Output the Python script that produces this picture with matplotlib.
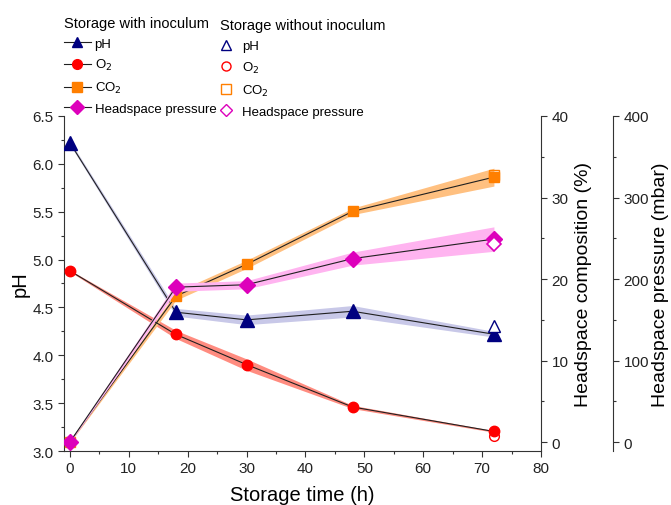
import matplotlib.pyplot as plt
from matplotlib.lines import Line2D
from matplotlib.ticker import MultipleLocator
import numpy as np

plt.rcParams['font.family'] = ['Liberation Sans', 'DejaVu Sans']

# --- données ---
temps = [0, 18, 30, 48, 72]

ph = [6.22, 4.45, 4.37, 4.46, 4.22]
ph_err = [0.02, 0.04, 0.05, 0.06, 0.03]
o2 = [21.0, 13.2, 9.5, 4.3, 1.3]
o2_err = [0.1, 0.5, 0.7, 0.2, 0.1]
co2 = [0.0, 17.9, 21.8, 28.3, 32.5]
co2_err = [0.1, 0.5, 0.5, 0.4, 1.1]
pression = [0, 190, 193, 225, 249]
pression_err = [1, 5, 5, 8, 15]

# sans inoculum (72 h seulement)
t_sans = [72]
ph_sans = [4.31]
o2_sans = [0.7]
co2_sans = [32.8]
pression_sans = [243]

c_ph, c_o2, c_co2, c_p = '#000080', '#ff0000', '#ff7f00', '#dd00bb'
b_ph, b_o2, b_co2, b_p = '#c8c8e8', '#ff8c80', '#ffc080', '#ffb4f0'

fig = plt.figure(figsize=(6.71, 5.06), dpi=100)
ax = fig.add_axes([0.0954, 0.1067, 0.7109, 0.6621])
ax2 = ax.twinx()
ax3 = ax.twinx()
ax3.spines['right'].set_position(('axes', 1.151))

def courbe(axe, y, err, col, band, mk, ms):
    y = np.array(y, float)
    e = np.array(err, float)
    axe.fill_between(temps, y - e, y + e, color=band, lw=0, zorder=1)
    axe.plot(temps, y, color='#202020', lw=0.8, zorder=2)
    axe.plot(temps, y, ls='none', marker=mk, ms=ms, color=col, mec=col, zorder=3)

courbe(ax, ph, ph_err, c_ph, b_ph, '^', 10)
courbe(ax2, o2, o2_err, c_o2, b_o2, 'o', 7.5)
courbe(ax2, co2, co2_err, c_co2, b_co2, 's', 7.5)
courbe(ax3, pression, pression_err, c_p, b_p, 'D', 8.5)

ax.plot(t_sans, ph_sans, ls='none', marker='^', ms=9, mfc='white', mec=c_ph, mew=1, zorder=4)
ax2.plot(t_sans, o2_sans, ls='none', marker='o', ms=7, mfc='white', mec=c_o2, mew=1, zorder=2.5)
ax2.plot(t_sans, co2_sans, ls='none', marker='s', ms=7, mfc='none', mec=c_co2, mew=1, zorder=4)
ax3.plot(t_sans, pression_sans, ls='none', marker='D', ms=7.5, mfc='white', mec=c_p, mew=1.2, zorder=4)

# axes
ax.set_xlim(-1, 80)
ax.set_ylim(3.0, 6.5)
ax2.set_ylim(-1.1, 40)
ax3.set_ylim(-11, 400)

ax.xaxis.set_major_locator(MultipleLocator(10))
ax.xaxis.set_minor_locator(MultipleLocator(5))
ax.yaxis.set_major_locator(MultipleLocator(0.5))
ax.yaxis.set_minor_locator(MultipleLocator(0.25))
ax2.yaxis.set_major_locator(MultipleLocator(10))
ax2.yaxis.set_minor_locator(MultipleLocator(5))
ax3.yaxis.set_major_locator(MultipleLocator(100))
ax3.yaxis.set_minor_locator(MultipleLocator(50))
ax.yaxis.set_major_formatter(plt.FormatStrFormatter('%.1f'))

for a in (ax, ax2, ax3):
    a.spines['top'].set_visible(False)
    a.tick_params(which='major', length=4, width=0.8, labelsize=11, colors='#333333', labelcolor='#222222')
    a.tick_params(which='minor', length=2.5, width=0.8, colors='#333333')
    for s in a.spines.values():
        s.set_color('#333333')
ax2.spines['left'].set_visible(False)
ax3.spines['left'].set_visible(False)
ax.spines['right'].set_visible(False)
ax2.spines['bottom'].set_visible(False)
ax3.spines['bottom'].set_visible(False)

ax.set_xlabel('Storage time (h)', fontsize=14.5, labelpad=7)
ax.set_ylabel('pH', fontsize=14.5, labelpad=2)
ax2.set_ylabel('Headspace composition (%)', fontsize=14, labelpad=5)
ax3.set_ylabel('Headspace pressure (mbar)', fontsize=14, labelpad=2)

# légendes
noms = ['pH', 'O$_2$', 'CO$_2$', 'Headspace pressure']
marqueurs = ['^', 'o', 's', 'D']
couleurs = [c_ph, c_o2, c_co2, c_p]
h_avec = [Line2D([], [], color='#202020', lw=0.8, marker=m, ms=7, mfc=c, mec=c)
          for m, c in zip(marqueurs, couleurs)]
h_sans = [Line2D([], [], ls='none', marker=m, ms=6.5, mfc='white', mec=c, mew=1)
          for m, c in zip(marqueurs, couleurs)]

leg1 = fig.legend(h_avec, noms, title='Storage with inoculum', loc='upper left',
                  bbox_to_anchor=(0.082, 0.985), frameon=False, fontsize=9.5,
                  title_fontsize=10.5, handlelength=2.0, handletextpad=0.3,
                  labelspacing=0.58, borderaxespad=0.3)
leg1._legend_box.align = 'left'
leg2 = fig.legend(h_sans, noms, title='Storage without inoculum', loc='upper left',
                  bbox_to_anchor=(0.3135, 0.98), frameon=False, fontsize=9.5,
                  title_fontsize=10.5, handlelength=1.0, handletextpad=0.7,
                  labelspacing=0.58, borderaxespad=0.3)
leg2._legend_box.align = 'left'

fig.savefig('out.png', dpi=100)
